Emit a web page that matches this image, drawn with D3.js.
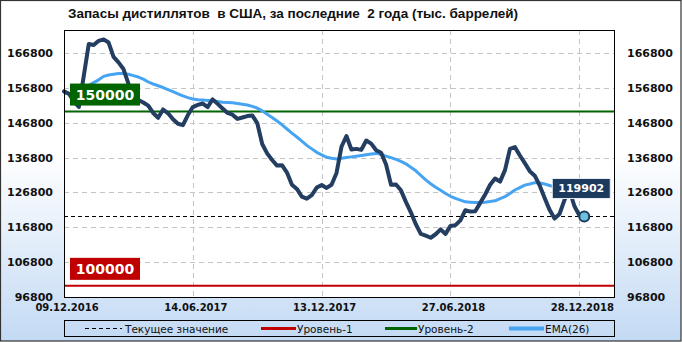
<html>
<head>
<meta charset="utf-8">
<style>
  body { margin: 0; background: #fff; }
  svg { display: block; }
  .ylab { font: bold 11px "DejaVu Sans", sans-serif; fill: #111; }
  .xlab { font: bold 10px "DejaVu Sans", sans-serif; fill: #111; }
  .leg { font: 10.5px "DejaVu Sans", sans-serif; fill: #111; }
</style>
</head>
<body>
<div id="chart"></div>
<script src="https://d3js.org/d3.v7.min.js"></script>
<script>
'use strict';

// weekly points, labels sit on every 26th point
var tickLabels = ['09.12.2016', '14.06.2017', '13.12.2017', '27.06.2018', '28.12.2018'];
var tickIndex = [0, 26, 52, 78, 104];
var yTicks = [96800, 106800, 116800, 126800, 136800, 146800, 156800, 166800];

var stocks = [
  155800, 155100, 152900, 151300, 160300, 169400, 169100, 170300, 170700, 169800,
  165700, 164100, 162200, 158000, 154750, 153300, 152600, 151700, 149600, 148200,
  150600, 149500, 147800, 146500, 146100, 149000, 151300, 151900, 152300, 151300,
  153500, 152200, 150900, 149600, 149100, 147900, 148300, 148700, 148900, 146700,
  140700, 138000, 136100, 134500, 134600, 132500, 129000, 127800, 125600, 125000,
  126000, 128200, 128900, 128100, 129000, 132400, 139900, 143000, 139100, 139300,
  139000, 141700, 140800, 138900, 138200, 134800, 129000, 129100, 127400, 124100,
  121100, 117700, 114900, 114400, 113800, 114800, 116200, 114900, 117200, 117400,
  118800, 121700, 121300, 121400, 123800, 126200, 129000, 130800, 129900, 133200,
  139300, 139800, 137400, 135200, 132900, 131600, 128800, 125200, 121800, 119300,
  120600, 124600, 127500, 122900, 120200, 119902
];

var ema26 = [
  155300, 155000, 155300, 156000, 156800, 157500, 158300, 159100, 160100, 160500,
  160700, 160900, 160900, 160700, 160300, 159900, 159300, 158500, 157900, 157400,
  156900, 156300, 155700, 155100, 154500, 154000, 153600, 153400, 153300, 153200,
  153100, 152900, 152700, 152600, 152500, 152300, 152100, 151900, 151500, 151000,
  150200, 149200, 148300, 147300, 146200, 145000, 143800, 142700, 141500, 140300,
  139300, 138300, 137600, 136900, 136600, 136400, 136600, 136800, 137000, 137200,
  137400, 137600, 137800, 138000, 137700, 137200, 136800, 136300, 135700, 135000,
  134000, 133000, 131700, 130400, 129300, 128300, 127400, 126500, 125700, 125100,
  124600, 124100, 124000, 123900, 123900, 124000, 124200, 124400, 125000, 125600,
  126500, 127500, 128200, 128900, 129200, 129600, 129500, 129200, 128800, 128400,
  128000, 127500, 127200, 126800, 126600, 126300
];

var current = 119902;
var level1 = 100000;
var level2 = 150000;

var W = 682, H = 342;
var L = 64, R = 614, T = 30, B = 297;

var svg = d3.select('#chart').append('svg')
  .attr('width', W).attr('height', H);

var grad = svg.append('defs').append('linearGradient')
  .attr('id', 'bg').attr('x1', 0).attr('y1', 0).attr('x2', 0).attr('y2', 1);
grad.append('stop').attr('offset', '0.45').attr('stop-color', '#ffffff');
grad.append('stop').attr('offset', '1').attr('stop-color', '#c3daf4');

svg.append('rect')
  .attr('x', 0.5).attr('y', 0.5).attr('width', W - 1.5).attr('height', H - 1.5)
  .attr('fill', 'url(#bg)').attr('stroke', '#333').attr('stroke-width', 1.2);

svg.append('text')
  .attr('x', 68).attr('y', 18)
  .style('font', 'bold 13.5px "Liberation Sans", Arial, sans-serif')
  .style('white-space', 'pre')
  .attr('fill', '#111')
  .text('Запасы дистиллятов  в США, за последние  2 года (тыс. баррелей)');

var x = d3.scaleLinear().domain([0, 111]).range([L, R]);
var y = d3.scaleLinear().domain([96800, 173400]).range([B, T]);

svg.append('rect')
  .attr('x', L).attr('y', T).attr('width', R - L).attr('height', B - T)
  .attr('fill', '#fff');

// grid
svg.append('g').selectAll('line').data(yTicks).join('line')
  .attr('x1', L).attr('x2', R)
  .attr('y1', function(d) { return Math.round(y(d)) + 0.5; })
  .attr('y2', function(d) { return Math.round(y(d)) + 0.5; })
  .attr('stroke', '#c4c4c4').attr('stroke-dasharray', '5,4');

svg.append('g').selectAll('line').data(tickIndex).join('line')
  .attr('x1', function(d) { return Math.round(x(d)) + 0.5; })
  .attr('x2', function(d) { return Math.round(x(d)) + 0.5; })
  .attr('y1', T).attr('y2', B)
  .attr('stroke', '#c4c4c4').attr('stroke-dasharray', '5,4');

// axes labels
var leftAxis = d3.axisLeft(y).tickValues(yTicks).tickSize(0).tickPadding(11)
  .tickFormat(d3.format('d'));
var rightAxis = d3.axisRight(y).tickValues(yTicks).tickSize(0).tickPadding(13)
  .tickFormat(d3.format('d'));
var gl = svg.append('g').attr('transform', 'translate(' + L + ',0)').call(leftAxis);
var gr = svg.append('g').attr('transform', 'translate(' + R + ',0)').call(rightAxis);
[gl, gr].forEach(function(g) {
  g.select('.domain').remove();
  g.selectAll('text').attr('class', 'ylab').attr('fill', null);
});

var bottomAxis = d3.axisBottom(x).tickValues(tickIndex).tickSize(0).tickPadding(7)
  .tickFormat(function(d, i) { return tickLabels[i]; });
var gb = svg.append('g').attr('transform', 'translate(2.5,' + B + ')').call(bottomAxis);
gb.select('.domain').remove();
gb.selectAll('text').attr('class', 'xlab').attr('fill', null);

// level lines
svg.append('line')
  .attr('x1', L).attr('x2', R).attr('y1', y(level1)).attr('y2', y(level1))
  .attr('stroke', '#c00000').attr('stroke-width', 2);
svg.append('line')
  .attr('x1', L).attr('x2', R).attr('y1', y(level2)).attr('y2', y(level2))
  .attr('stroke', '#006400').attr('stroke-width', 2);
svg.append('line')
  .attr('x1', L).attr('x2', R)
  .attr('y1', Math.round(y(current)) + 0.5).attr('y2', Math.round(y(current)) + 0.5)
  .attr('stroke', '#000').attr('stroke-dasharray', '4,3');

var line = d3.line()
  .x(function(d, i) { return x(i); })
  .y(function(d) { return y(d); });

svg.append('path').datum(ema26)
  .attr('d', line).attr('fill', 'none')
  .attr('stroke', '#46a4f2').attr('stroke-width', 3)
  .attr('stroke-linejoin', 'round');

svg.append('path').datum(stocks)
  .attr('d', line).attr('fill', 'none')
  .attr('stroke', '#233e60').attr('stroke-width', 4)
  .attr('stroke-linejoin', 'round').attr('stroke-linecap', 'round');

// level boxes
function levelBox(val, color) {
  var yy = y(val);
  svg.append('rect')
    .attr('x', 70).attr('y', yy - 28).attr('width', 70).attr('height', 22)
    .attr('fill', color);
  svg.append('text')
    .attr('x', 105).attr('y', yy - 12)
    .attr('text-anchor', 'middle')
    .style('font', 'bold 14px "DejaVu Sans", sans-serif')
    .attr('fill', '#fff')
    .text(d3.format('d')(val));
}
levelBox(level2, '#006400');
levelBox(level1, '#c00000');

// current value marker
var last = stocks.length - 1;
var cx = x(last), cy = y(current);
svg.append('rect')
  .attr('x', cx - 32).attr('y', cy - 38).attr('width', 58).attr('height', 20)
  .attr('fill', '#1c3a5e').attr('stroke', '#e8eef5').attr('stroke-width', 1);
svg.append('text')
  .attr('x', cx - 3).attr('y', cy - 24)
  .attr('text-anchor', 'middle')
  .style('font', 'bold 11px "DejaVu Sans", sans-serif')
  .attr('fill', '#fff')
  .text(d3.format('d')(current));
svg.append('circle')
  .attr('cx', cx).attr('cy', cy).attr('r', 5)
  .attr('fill', '#6ec1dc').attr('stroke', '#1c3a5e').attr('stroke-width', 2);

// plot frame
svg.append('rect')
  .attr('x', L + 0.5).attr('y', T + 0.5).attr('width', R - L).attr('height', B - T)
  .attr('fill', 'none').attr('stroke', '#000');

// legend
var legend = [
  { name: 'Текущее значение', color: '#000', dash: '4,3', width: 1, x0: 85, x1: 122, tx: 125 },
  { name: 'Уровень-1', color: '#c00000', dash: null, width: 3, x0: 261, x1: 296, tx: 297 },
  { name: 'Уровень-2', color: '#006400', dash: null, width: 3, x0: 385, x1: 417, tx: 418 },
  { name: 'EMA(26)', color: '#46a4f2', dash: null, width: 4, x0: 509, x1: 544, tx: 545 }
];
svg.append('rect')
  .attr('x', L + 0.5).attr('y', 320.5).attr('width', R - L).attr('height', 16)
  .attr('fill', 'none').attr('stroke', '#000');
var lg = svg.append('g').selectAll('g').data(legend).join('g');
lg.append('line')
  .attr('x1', function(d) { return d.x0; }).attr('x2', function(d) { return d.x1; })
  .attr('y1', 328.5).attr('y2', 328.5)
  .attr('stroke', function(d) { return d.color; })
  .attr('stroke-width', function(d) { return d.width; })
  .attr('stroke-dasharray', function(d) { return d.dash; });
lg.append('text')
  .attr('class', 'leg')
  .attr('x', function(d) { return d.tx; }).attr('y', 332.5)
  .text(function(d) { return d.name; });
</script>
</body>
</html>
